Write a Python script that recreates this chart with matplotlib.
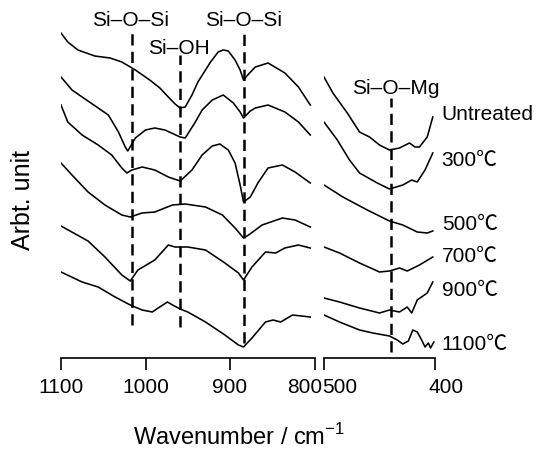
import matplotlib.pyplot as plt
import matplotlib.transforms as mtransforms

plt.rcParams['font.family'] = ['Liberation Sans', 'Noto Sans CJK KR', 'DejaVu Sans']
plt.rcParams['mathtext.fontset'] = 'custom'
plt.rcParams['mathtext.rm'] = 'Liberation Sans'

labels = ['Untreated', '300℃', '500℃', '700℃', '900℃', '1100℃']

# 1100-800 cm-1 window (wavenumber, arbitrary offset intensity)
untreated_l_x = [1100, 1092, 1080, 1060, 1042, 1028, 1012, 995, 983, 973, 965, 959, 953, 945, 938, 923, 914, 908, 902, 894, 888, 884, 878, 870, 855, 835, 819, 805]
untreated_l_y = [325, 316, 308, 302, 300, 296, 288, 278, 270, 261, 254, 250, 251, 263, 276, 296, 306, 308, 307, 298, 288, 278, 284, 291, 295, 285, 271, 253]

t300_l_x = [1100, 1087, 1075, 1056, 1044, 1032, 1024, 1021, 1012, 1000, 989, 977, 959, 953, 941, 933, 921, 908, 896, 888, 884, 876, 870, 855, 835, 819, 805]
t300_l_y = [281, 268, 261, 250, 243, 226, 211, 207, 220, 228, 230, 228, 221, 220, 236, 248, 258, 263, 255, 246, 240, 247, 250, 253, 246, 236, 223]

t500_l_x = [1100, 1092, 1075, 1056, 1040, 1028, 1022, 1016, 1004, 989, 973, 959, 945, 933, 921, 912, 902, 894, 888, 884, 876, 867, 855, 838, 823, 805]
t500_l_y = [253, 236, 223, 213, 203, 190, 185, 188, 191, 188, 181, 177, 188, 203, 212, 214, 208, 195, 173, 156, 161, 175, 190, 193, 186, 175]

t700_l_x = [1100, 1087, 1068, 1048, 1028, 1018, 1004, 989, 968, 953, 929, 909, 894, 884, 878, 862, 838, 823, 805]
t700_l_y = [195, 183, 166, 153, 143, 141, 145, 146, 153, 154, 151, 143, 130, 120, 123, 133, 140, 138, 131]

t900_l_x = [1100, 1068, 1048, 1028, 1018, 1009, 989, 973, 965, 950, 929, 906, 890, 884, 874, 858, 846, 835, 819, 805]
t900_l_y = [132, 117, 101, 83, 77, 88, 98, 113, 111, 111, 108, 95, 85, 78, 91, 106, 105, 110, 113, 110]

t1100_l_x = [1100, 1075, 1056, 1036, 1018, 1004, 992, 985, 974, 968, 959, 950, 929, 906, 890, 884, 874, 858, 849, 840, 826, 805]
t1100_l_y = [86, 76, 71, 61, 53, 48, 46, 50, 56, 53, 49, 46, 36, 23, 13, 11, 20, 36, 38, 36, 43, 41]

# 500-400 cm-1 window
untreated_r_x = [500, 492, 479, 468, 459, 450, 441, 432, 423, 418, 414, 407, 402]
untreated_r_y = [281, 265, 245, 226, 221, 213, 208, 210, 215, 211, 211, 221, 241]

t300_r_x = [500, 488, 477, 468, 452, 441, 429, 421, 416, 409, 402]
t300_r_y = [236, 218, 198, 185, 175, 169, 173, 178, 176, 188, 205]

t500_r_x = [500, 483, 461, 441, 429, 416, 407, 402]
t500_r_y = [173, 161, 148, 137, 133, 126, 125, 127]

t700_r_x = [500, 486, 468, 450, 441, 432, 425, 414, 402]
t700_r_y = [111, 105, 95, 86, 87, 90, 87, 93, 101]

t900_r_x = [500, 486, 468, 450, 441, 432, 425, 421, 416, 407, 402]
t900_r_y = [60, 56, 50, 45, 48, 46, 51, 45, 58, 65, 76]

t1100_r_x = [500, 486, 468, 456, 441, 434, 429, 424, 420, 416, 412, 409, 406, 404, 401]
t1100_r_y = [43, 36, 28, 25, 22, 18, 14, 17, 28, 26, 18, 11, 15, 10, 16]

left_x = [untreated_l_x, t300_l_x, t500_l_x, t700_l_x, t900_l_x, t1100_l_x]
left_y = [untreated_l_y, t300_l_y, t500_l_y, t700_l_y, t900_l_y, t1100_l_y]
right_x = [untreated_r_x, t300_r_x, t500_r_x, t700_r_x, t900_r_x, t1100_r_x]
right_y = [untreated_r_y, t300_r_y, t500_r_y, t700_r_y, t900_r_y, t1100_r_y]

# band markers: position, label, dashed line span
bands_left = [(1016, 'Si–O–Si', 33, 326), (959, 'Si–OH', 31, 303), (884, 'Si–O–Si', 15, 326)]
band_mg = (440, 'Si–O–Mg', 6, 260)
label_y = [243, 198, 133, 101, 68, 13]

fig = plt.figure(figsize=(5.49, 4.5), dpi=100)
ax1 = fig.add_axes([61 / 549, 92 / 450, 253.5 / 549, 358 / 450])
ax2 = fig.add_axes([324 / 549, 92 / 450, 111 / 549, 358 / 450])

for x, y in zip(left_x, left_y):
    ax1.plot(x, y, color='black', lw=1.15, solid_joinstyle='round')
for x, y in zip(right_x, right_y):
    ax2.plot(x, y, color='black', lw=1.15, solid_joinstyle='round')

dash = (0, (4.5, 2.5))
for pos, txt, y0, y1 in bands_left:
    ax1.plot([pos, pos], [y0, y1], color='black', lw=1.8, linestyle=dash)
ax1.text(1018, 337, bands_left[0][1], ha='center', va='center', fontsize=15)
ax1.text(960, 310, bands_left[1][1], ha='center', va='center', fontsize=15)
ax1.text(884, 337, bands_left[2][1], ha='center', va='center', fontsize=15)

ax2.plot([band_mg[0]] * 2, [band_mg[2], band_mg[3]], color='black', lw=1.8, linestyle=dash)
ax2.text(435, 270, band_mg[1], ha='center', va='center', fontsize=15)

for lab, ly in zip(labels, label_y):
    ax2.text(394, ly, lab, ha='left', va='center', fontsize=15, clip_on=False)

ax1.set_xlim(1100, 800)
ax2.set_xlim(500, 400)
ax1.set_xticks([1100, 1000, 900, 800])
ax2.set_xticks([500, 400])
for ax in (ax1, ax2):
    ax.set_ylim(0, 358)
    ax.set_yticks([])
    ax.patch.set_visible(False)
    for s in ('top', 'left', 'right'):
        ax.spines[s].set_visible(False)
    ax.spines['bottom'].set_linewidth(1.2)
    ax.tick_params(axis='x', direction='out', length=8.5, width=1.2, labelsize=15, pad=6)

# nudge the crowded labels at the axis break like the original
shifts = [(ax1.get_xticklabels()[-1], -10), (ax2.get_xticklabels()[0], 16), (ax2.get_xticklabels()[1], 11)]
for lab, dx in shifts:
    lab.set_transform(lab.get_transform() + mtransforms.ScaledTranslation(dx / 100, 0, fig.dpi_scale_trans))

fig.text(23 / 549, 1 - 200 / 450, 'Arbt. unit', rotation=90, ha='center', va='center', fontsize=18)
fig.text(239 / 549, 1 - 437 / 450, 'Wavenumber / cm$^{-1}$', ha='center', va='center', fontsize=17)

fig.savefig('out.png', dpi=100)
